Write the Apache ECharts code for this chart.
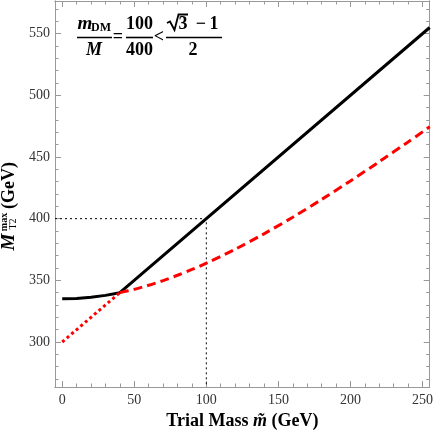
<!DOCTYPE html>
<html>
<head>
<meta charset="utf-8">
<script src="https://cdn.jsdelivr.net/npm/echarts@6/dist/echarts.min.js"></script>
<style>
  html, body { margin: 0; padding: 0; background: #fff; }
  #chart { width: 436px; height: 436px; }
</style>
</head>
<body>
<div id="chart"></div>
<script>
  // values
  var xMajor = [0, 50, 100, 150, 200, 250];
  var xMinor = [10, 20, 30, 40, 60, 70, 80, 90, 110, 120, 130, 140, 160, 170, 180, 190, 210, 220, 230, 240];
  var yMajor = [300, 350, 400, 450, 500, 550];
  var yMinor = [270, 280, 290, 310, 320, 330, 340, 360, 370, 380, 390, 410, 420, 430, 440, 460, 470, 480, 490, 510, 520, 530, 540, 560, 570];

  // black: upper bound
  var blackX = [0, 10, 20, 30, 40, 255];
  var blackY = [335, 335.3, 336.3, 337.8, 340, 555];
  // red: dotted part below the kink
  var redLowX = [0, 40];
  var redLowY = [300, 340];
  // red: dashed part above the kink
  var redHighX = [40, 50, 60, 70, 80, 90, 100, 120, 140, 160, 180, 200, 220, 240, 255];
  var redHighY = [340, 342.7, 346, 349.8, 354.1, 358.8, 363.9, 375.2, 387.7, 401.2, 415.6, 430.6, 446.2, 462.2, 474.5];
  // true mass guide
  var trueMass = 100;
  var trueMax = 400;

  var xMin = -5, xMax = 255, yMin = 263.5, yMax = 576.5;
  var serif = '"Liberation Serif", "Times New Roman", serif';
  var frameColor = '#999';

  function zip(xs, ys) {
    return xs.map(function (x, i) { return [x, ys[i]]; });
  }

  function makeX(pos, labels, values, len) {
    return {
      type: 'value', position: pos, min: xMin, max: xMax,
      axisLine: { show: true, onZero: false, lineStyle: { color: frameColor, width: 1 } },
      axisTick: { show: true, inside: true, length: len, customValues: values, lineStyle: { color: frameColor } },
      axisLabel: labels ? { show: true, customValues: values, margin: 6, color: '#333', fontFamily: serif, fontSize: 14 } : { show: false },
      splitLine: { show: false }
    };
  }
  function makeY(pos, labels, values, len) {
    return {
      type: 'value', position: pos, min: yMin, max: yMax,
      axisLine: { show: true, onZero: false, lineStyle: { color: frameColor, width: 1 } },
      axisTick: { show: true, inside: true, length: len, customValues: values, lineStyle: { color: frameColor } },
      axisLabel: labels ? { show: true, customValues: values, margin: 5, color: '#333', fontFamily: serif, fontSize: 14 } : { show: false },
      splitLine: { show: false }
    };
  }

  var xAxes = [
    makeX('bottom', true, xMajor, 6),
    makeX('bottom', false, xMinor, 3.5),
    makeX('top', false, xMajor, 6),
    makeX('top', false, xMinor, 3.5)
  ];
  xAxes[0].name = '{b|Trial Mass }{i|m\u0303}{b| (GeV)}';
  xAxes[0].nameLocation = 'middle';
  xAxes[0].nameGap = 24;
  xAxes[0].nameTextStyle = {
    rich: {
      b: { fontFamily: serif, fontWeight: 'bold', fontSize: 18, color: '#000' },
      i: { fontFamily: serif, fontWeight: 'bold', fontStyle: 'italic', fontSize: 18, color: '#000' }
    }
  };

  var yAxes = [
    makeY('left', true, yMajor, 6),
    makeY('left', false, yMinor, 3.5),
    makeY('right', false, yMajor, 6),
    makeY('right', false, yMinor, 3.5)
  ];

  var option = {
    animation: false,
    grid: { left: 55, right: 3, top: 1, bottom: 49 },
    xAxis: xAxes,
    yAxis: yAxes,
    series: [
      {
        type: 'line', symbol: 'none', z: 1,
        data: [[xMin, trueMax], [trueMass, trueMax], [trueMass, yMin]],
        lineStyle: { color: '#000', width: 1, type: [2, 3] }
      },
      {
        type: 'line', symbol: 'none', z: 3,
        data: zip(blackX, blackY),
        lineStyle: { color: '#000', width: 3 }
      },
      {
        type: 'line', symbol: 'none', z: 4,
        data: zip(redLowX, redLowY),
        lineStyle: { color: '#ff0000', width: 3, type: [3, 3] }
      },
      {
        type: 'line', symbol: 'none', z: 4, smooth: 0.3,
        data: zip(redHighX, redHighY),
        lineStyle: { color: '#ff0000', width: 3, type: [9, 5] }
      }
    ],
    graphic: [
      // formula box: m_DM / M = 100/400 < (sqrt3 - 1)/2
      { type: 'text', style: { text: 'm', x: 85, y: 24, fill: '#000', font: 'italic bold 19px ' + serif, align: 'center', verticalAlign: 'middle' } },
      { type: 'text', style: { text: 'DM', x: 101, y: 28, fill: '#000', font: 'bold 12px ' + serif, align: 'center', verticalAlign: 'middle' } },
      { type: 'line', shape: { x1: 77, y1: 37.5, x2: 112, y2: 37.5 }, style: { stroke: '#000', lineWidth: 1.6 } },
      { type: 'text', style: { text: 'M', x: 94, y: 50, fill: '#000', font: 'italic bold 18px ' + serif, align: 'center', verticalAlign: 'middle' } },
      { type: 'text', style: { text: '=', x: 118, y: 37, fill: '#000', font: 'bold 18px ' + serif, align: 'center', verticalAlign: 'middle' } },
      { type: 'text', style: { text: '100', x: 139.5, y: 24, fill: '#000', font: 'bold 18px ' + serif, align: 'center', verticalAlign: 'middle' } },
      { type: 'line', shape: { x1: 126, y1: 37.5, x2: 153, y2: 37.5 }, style: { stroke: '#000', lineWidth: 1.6 } },
      { type: 'text', style: { text: '400', x: 139.5, y: 50, fill: '#000', font: 'bold 18px ' + serif, align: 'center', verticalAlign: 'middle' } },
      { type: 'text', style: { text: '<', x: 159, y: 37, fill: '#000', font: 'bold 18px ' + serif, align: 'center', verticalAlign: 'middle' } },
      { type: 'polyline', shape: { points: [[167, 23], [170, 21.5], [174.5, 30], [178.5, 14.5], [188, 14.5]] }, style: { stroke: '#000', lineWidth: 1.8, fill: null } },
      { type: 'text', style: { text: '3', x: 183, y: 24, fill: '#000', font: 'bold 18px ' + serif, align: 'center', verticalAlign: 'middle' } },
      { type: 'text', style: { text: '\u2212', x: 201, y: 24, fill: '#000', font: 'bold 18px ' + serif, align: 'center', verticalAlign: 'middle' } },
      { type: 'text', style: { text: '1', x: 214, y: 24, fill: '#000', font: 'bold 18px ' + serif, align: 'center', verticalAlign: 'middle' } },
      { type: 'line', shape: { x1: 166, y1: 37.5, x2: 222, y2: 37.5 }, style: { stroke: '#000', lineWidth: 1.6 } },
      { type: 'text', style: { text: '2', x: 193, y: 50, fill: '#000', font: 'bold 18px ' + serif, align: 'center', verticalAlign: 'middle' } },
      // y axis title, rotated
      {
        type: 'group', x: 0, y: 200, rotation: Math.PI / 2,
        children: [
          { type: 'text', style: { text: 'M', x: -42, y: 9, fill: '#000', font: 'italic bold 19px ' + serif, align: 'center', verticalAlign: 'middle' } },
          { type: 'text', style: { text: 'max', x: -22, y: 4, fill: '#000', font: 'bold 10px ' + serif, align: 'center', verticalAlign: 'middle' } },
          { type: 'text', style: { text: 'T2', x: -24, y: 13.5, fill: '#000', font: '10px ' + serif, align: 'center', verticalAlign: 'middle' } },
          { type: 'text', style: { text: '(GeV)', x: -9, y: 9, fill: '#000', font: 'bold 18px ' + serif, align: 'left', verticalAlign: 'middle' } }
        ]
      }
    ]
  };

  var chart = echarts.init(document.getElementById('chart'), null, { renderer: 'canvas' });
  chart.setOption(option);
</script>
</body>
</html>
